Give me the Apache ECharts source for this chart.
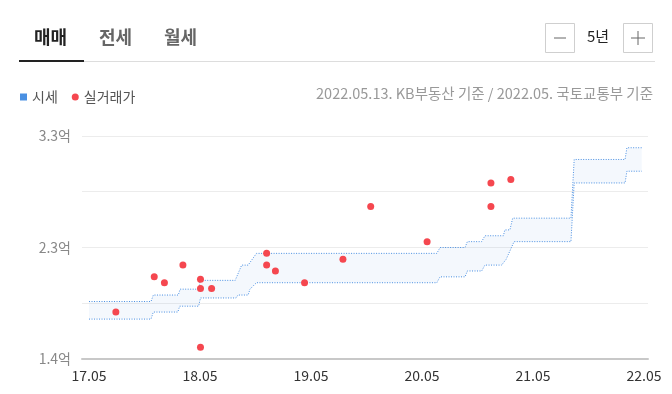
<!DOCTYPE html>
<html>
<head>
<meta charset="utf-8">
<script src="https://cdn.jsdelivr.net/npm/echarts@6/dist/echarts.min.js"></script>
<style>
html,body{margin:0;padding:0;background:#fff;}
#c{width:672px;height:394px;}
</style>
</head>
<body>
<div id="c"></div>
<script>
// x values are months since 2017.05
var xTickMonths = [0, 12, 24, 36, 48, 60];
var xTickLabels = ['17.05', '18.05', '19.05', '20.05', '21.05', '22.05'];
var yGridValues = [1.4, 1.875, 2.35, 2.825, 3.3];
var yLabelValues = [1.4, 2.35, 3.3];

// KB 시세 upper bound
var upperMonths = [0, 6.7, 6.95, 9.65, 9.85, 11.9, 12.0, 15.8, 16.5, 17.2, 18.1, 37.6, 37.95, 40.65, 40.9, 42.45, 42.8, 44.8, 44.95, 45.5, 45.8, 52.1, 52.45, 57.95, 58.15, 59.75];
var upperValues = [1.89, 1.89, 1.945, 1.945, 1.995, 1.995, 2.07, 2.07, 2.2, 2.2, 2.3, 2.3, 2.35, 2.35, 2.4, 2.4, 2.45, 2.45, 2.5, 2.5, 2.6, 2.6, 3.1, 3.1, 3.2, 3.2];
// KB 시세 lower bound
var lowerMonths = [0, 6.7, 6.95, 9.6, 9.8, 11.85, 12.05, 15.9, 16.1, 17.2, 17.4, 18.1, 37.6, 37.95, 40.65, 40.9, 42.45, 42.8, 44.6, 45.1, 45.95, 52.1, 52.45, 57.95, 58.15, 59.75];
var lowerValues = [1.74, 1.74, 1.8, 1.8, 1.85, 1.85, 1.92, 1.92, 1.945, 1.945, 1.995, 2.05, 2.05, 2.1, 2.1, 2.15, 2.15, 2.2, 2.2, 2.25, 2.4, 2.4, 2.9, 2.9, 3.0, 3.0];

// 실거래가
var dealMonths = [2.9, 7.05, 8.15, 10.15, 12.05, 12.05, 13.25, 12.05, 19.2, 19.2, 20.15, 23.3, 27.45, 30.45, 36.55, 43.45, 43.45, 45.6];
var dealValues = [1.8, 2.1, 2.05, 2.2, 2.08, 2.0, 2.0, 1.5, 2.3, 2.2, 2.15, 2.05, 2.25, 2.7, 2.4, 2.9, 2.7, 2.93];

function zip(a, b) { return a.map(function (v, i) { return [v, b[i]]; }); }
var upperData = zip(upperMonths, upperValues);
var lowerData = zip(lowerMonths, lowerValues);
var dealData = zip(dealMonths, dealValues);

var FONT = '"Noto Sans CJK KR", "Noto Sans", sans-serif';
var LINE_COLOR = '#4a8fe2';

var chart = echarts.init(document.getElementById('c'));
chart.setOption({
  animation: false,
  textStyle: { fontFamily: FONT },
  grid: { left: 82, right: 24, top: 136, bottom: 35 },
  legend: {
    left: 15, top: 85,
    itemWidth: 7, itemHeight: 7, itemGap: 14,
    textStyle: { color: '#555', fontSize: 14, fontFamily: FONT },
    data: [
      { name: '시세', icon: 'rect', itemStyle: { color: '#4a90e2' } },
      { name: '실거래가', icon: 'circle', itemStyle: { color: '#f5474f' } }
    ]
  },
  graphic: [
    { type: 'text', left: 34, top: 28, style: { text: '매매', font: 'bold 18px ' + FONT, fill: '#222' } },
    { type: 'text', left: 99, top: 28, style: { text: '전세', font: 'bold 18px ' + FONT, fill: '#666' } },
    { type: 'text', left: 164, top: 28, style: { text: '월세', font: 'bold 18px ' + FONT, fill: '#666' } },
    { type: 'rect', shape: { x: 19, y: 61, width: 636, height: 1 }, style: { fill: '#dddddd' } },
    { type: 'rect', shape: { x: 19, y: 60, width: 65, height: 2 }, style: { fill: '#222' } },
    { type: 'rect', shape: { x: 545.5, y: 23.5, width: 29, height: 29 }, style: { fill: '#fff', stroke: '#cfcfcf', lineWidth: 1 } },
    { type: 'line', shape: { x1: 554, y1: 38, x2: 566, y2: 38 }, style: { stroke: '#666', lineWidth: 1 } },
    { type: 'text', left: 587, top: 29, style: { text: '5년', font: '15px ' + FONT, fill: '#222' } },
    { type: 'rect', shape: { x: 623.5, y: 23.5, width: 29, height: 29 }, style: { fill: '#fff', stroke: '#cfcfcf', lineWidth: 1 } },
    { type: 'line', shape: { x1: 631, y1: 38, x2: 645, y2: 38 }, style: { stroke: '#666', lineWidth: 1 } },
    { type: 'line', shape: { x1: 638, y1: 31, x2: 638, y2: 45 }, style: { stroke: '#666', lineWidth: 1 } },
    { type: 'text', right: 19, top: 86, style: { text: '2022.05.13. KB부동산 기준 / 2022.05. 국토교통부 기준', font: '14.5px ' + FONT, fill: '#999' } }
  ],
  xAxis: {
    type: 'value',
    min: -0.76, max: 60.43,
    axisLine: { show: true, lineStyle: { color: '#c8c8c8', width: 2 } },
    axisTick: { show: false, customValues: xTickMonths },
    splitLine: { show: false },
    axisLabel: {
      customValues: xTickMonths,
      margin: 10,
      color: '#333', fontSize: 14, fontFamily: FONT,
      formatter: function (v) { return xTickLabels[xTickMonths.indexOf(Math.round(v))] || ''; }
    }
  },
  yAxis: {
    type: 'value',
    min: 1.4, max: 3.3,
    axisLine: { show: false },
    axisTick: { show: false, customValues: yGridValues },
    splitLine: { show: true, lineStyle: { color: '#ececec', width: 1 } },
    axisLabel: {
      customValues: yLabelValues,
      margin: 11,
      color: '#888', fontSize: 14, fontFamily: FONT,
      formatter: function (v) { return (Math.floor(v * 10 + 1e-6) / 10).toFixed(1) + '억'; }
    }
  },
  series: [
    {
      type: 'custom',
      name: 'band',
      silent: true,
      data: [[0, 2]],
      z: 1,
      renderItem: function (params, api) {
        var pts = upperData.map(function (p) { return api.coord(p); })
          .concat(lowerData.slice().reverse().map(function (p) { return api.coord(p); }));
        return { type: 'polygon', shape: { points: pts }, style: { fill: 'rgba(74,144,226,0.06)' } };
      }
    },
    {
      type: 'line', name: '시세', data: upperData, symbol: 'none', z: 2,
      itemStyle: { color: LINE_COLOR },
      lineStyle: { color: LINE_COLOR, width: 1, type: [1, 1.5] }
    },
    {
      type: 'line', name: '시세', data: lowerData, symbol: 'none', z: 2,
      itemStyle: { color: LINE_COLOR },
      lineStyle: { color: LINE_COLOR, width: 1, type: [1, 1.5] }
    },
    {
      type: 'scatter', name: '실거래가', data: dealData, symbolSize: 7, z: 3,
      itemStyle: { color: '#f5474f', opacity: 1 }
    }
  ]
});
</script>
</body>
</html>
